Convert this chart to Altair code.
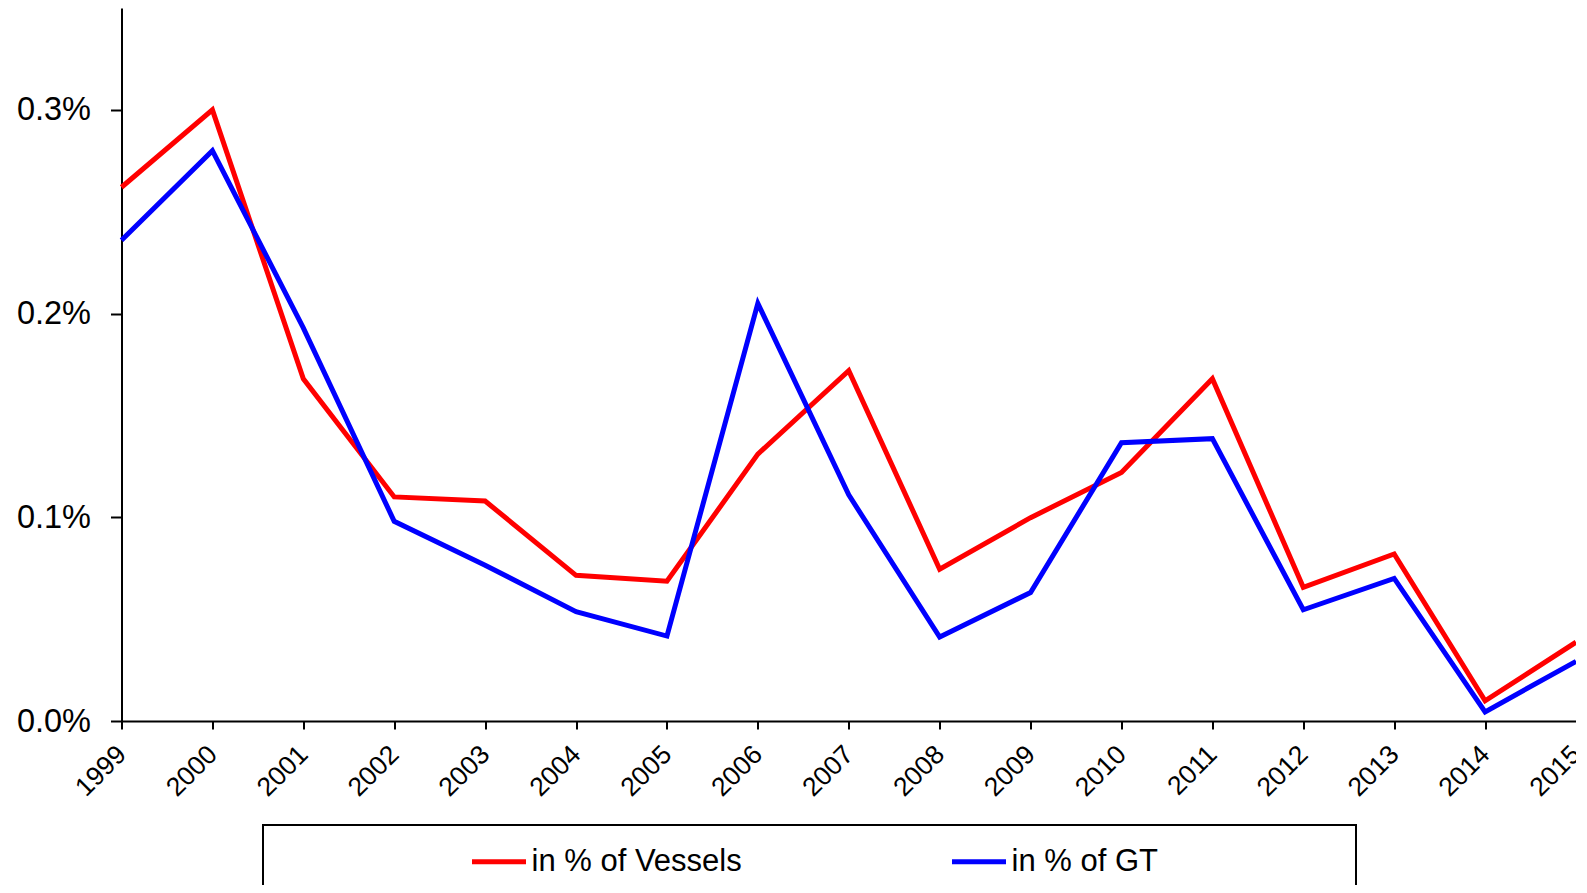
import altair as alt
import pandas as pd

years = list(range(1999, 2016))
vessels = [0.262, 0.300, 0.168, 0.110, 0.108, 0.0715, 0.0686, 0.131, 0.172, 0.0745,
           0.0998, 0.122, 0.168, 0.0656, 0.082, 0.0099, 0.0387]
gt = [0.236, 0.280, 0.193, 0.098, 0.0765, 0.0537, 0.0417, 0.205, 0.111, 0.0412,
      0.0631, 0.1366, 0.1386, 0.0546, 0.070, 0.0045, 0.0293]
series_names = ["in % of Vessels", "in % of GT"]
series_colors = ["#FF0000", "#0000FF"]

df_v = pd.DataFrame({"year": years, "value": [v / 100 for v in vessels], "series": series_names[0]})
df_g = pd.DataFrame({"year": years, "value": [v / 100 for v in gt], "series": series_names[1]})

FONT = "Liberation Sans"

x_enc = alt.X("year:Q",
              scale=alt.Scale(domain=[1999, 2015], nice=False, zero=False),
              axis=alt.Axis(values=years, format="d", labelAngle=-45, labelAlign="right",
                            labelBaseline="middle", labelFontSize=26.5, labelFont=FONT,
                            labelColor="black", tickColor="black", domainColor="black",
                            tickSize=8, tickWidth=2, domainWidth=2, labelPadding=21,
                            grid=False, title=None, labelOverlap=False))
y_enc = alt.Y("value:Q",
              scale=alt.Scale(domain=[0, 0.0035], nice=False),
              axis=alt.Axis(values=[0, 0.001, 0.002, 0.003], format=".1%", labelFontSize=32.5,
                            labelFont=FONT, labelColor="black", tickColor="black",
                            domainColor="black", tickSize=11, tickWidth=2, domainWidth=2,
                            labelPadding=20, grid=False, title=None))
color_enc = alt.Color("series:N",
                      scale=alt.Scale(domain=series_names, range=series_colors),
                      legend=alt.Legend(orient="none", legendX=348, legendY=824,
                                        direction="horizontal", title=None,
                                        symbolType="stroke", symbolStrokeWidth=5,
                                        symbolSize=2916, labelFontSize=31, labelFont=FONT,
                                        labelColor="black", columnPadding=199, labelOffset=3,
                                        labelLimit=500))

line_v = alt.Chart(df_v).mark_line(strokeWidth=5).encode(x=x_enc, y=y_enc, color=color_enc)
line_g = alt.Chart(df_g).mark_line(strokeWidth=5).encode(x=x_enc, y=y_enc, color=color_enc)

box = alt.Chart(pd.DataFrame({"a": [0]})).mark_rect(filled=False, stroke="black", strokeWidth=2).encode(
    x=alt.value(141.5), x2=alt.value(1234.5), y=alt.value(817), y2=alt.value(960))

chart = alt.layer(line_v, line_g, box).properties(
    width=1454.5, height=713,
    autosize=alt.AutoSizeParams(type="none"),
    padding={"left": 113.5, "top": 0, "right": 0, "bottom": 164},
).configure_view(stroke=None)

chart.save("out.html", embed_options={"renderer": "svg", "actions": False})
